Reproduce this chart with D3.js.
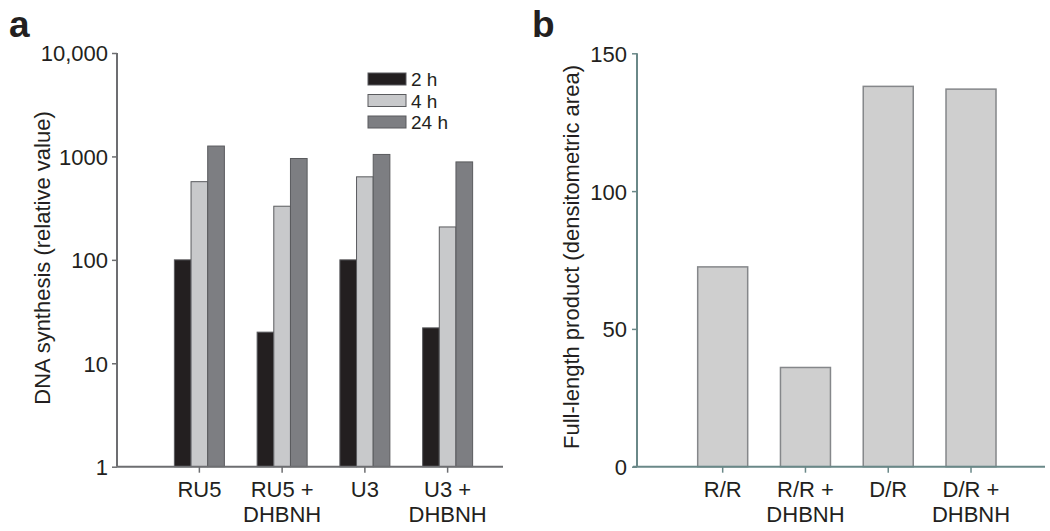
<!DOCTYPE html>
<html lang="en">
<head>
<meta charset="UTF-8">
<title>DNA synthesis</title>
<style>
    body { margin: 0; background: #fff; }
    svg text { font-family: "Liberation Sans", Arial, sans-serif; fill: #231f20; }
</style>
</head>
<body>
<svg id="SVG"></svg>
<script src="https://cdnjs.cloudflare.com/ajax/libs/d3/7.8.5/d3.min.js"></script>
<script>
    // panel a data
    var groupsA = [["RU5"], ["RU5 +", "DHBNH"], ["U3"], ["U3 +", "DHBNH"]];
    var seriesA = ["2 h", "4 h", "24 h"];
    var val2h = [100, 20, 100, 22];
    var val4h = [570, 330, 635, 208];
    var val24h = [1260, 955, 1045, 885];
    var ticksA = [1, 10, 100, 1000, 10000];

    // panel b data
    var groupsB = [["R/R"], ["R/R +", "DHBNH"], ["D/R"], ["D/R +", "DHBNH"]];
    var valB = [72.5, 36, 138, 137];
    var ticksB = [0, 50, 100, 150];

    var width = 1050, height = 531;
    var fs = "22px";
    var svg = d3.select("#SVG").attr("width", width).attr("height", height);

    var colorsA = ["#231f20", "#c8c9cb", "#7d7e82"];
    var axisCol = "#6d6e71";

    //********* panel a *********
    var gA = svg.append("g");
    var keysA = groupsA.map((d, i) => i);
    var xA = d3.scaleBand().domain(keysA).range([158, 489]);
    var yA = d3.scaleLog().domain([1, 10000]).range([466.7, 53]);
    var xSub = d3.scaleBand().domain(seriesA).range([0, 50]);
    var allA = [val2h, val4h, val24h];

    keysA.forEach(function (k) {
        gA.append("g").selectAll("rect")
            .data(seriesA)
            .enter().append("rect")
            .attr("x", s => xA(k) + xA.bandwidth() / 2 - 25 + xSub(s))
            .attr("width", xSub.bandwidth())
            .attr("y", (s, j) => yA(allA[j][k]))
            .attr("height", (s, j) => yA(1) - yA(allA[j][k]))
            .attr("fill", (s, j) => colorsA[j])
            .attr("stroke", "#5a5b5e")
            .attr("stroke-width", 1);
    });

    var axYA = gA.append("g").attr("transform", "translate(117,0)")
        .call(d3.axisLeft(yA).tickValues(ticksA).tickFormat(d3.format(",")).tickSize(5).tickPadding(4));
    axYA.select(".domain").remove();
    axYA.append("line").attr("x1", 0).attr("x2", 0).attr("y1", yA(10000)).attr("y2", yA(1))
        .attr("stroke", axisCol).attr("stroke-width", 2);
    axYA.selectAll(".tick line").attr("stroke", axisCol).attr("stroke-width", 1.5);
    axYA.selectAll(".tick text").style("font-size", fs).attr("fill", "#231f20").attr("dy", "0.36em");
    axYA.selectAll(".tick").filter(d => d === 1000).select("text").text("1000");

    var axXA = gA.append("g").attr("transform", "translate(0," + yA(1) + ")")
        .call(d3.axisBottom(xA).tickSize(6).tickFormat(""));
    axXA.select(".domain").remove();
    axXA.append("line").attr("x1", 117).attr("x2", 503).attr("stroke", axisCol).attr("stroke-width", 2);
    axXA.selectAll(".tick line").attr("stroke", axisCol).attr("stroke-width", 1.5);
    axXA.selectAll(".tick").each(function (d) {
        var t = d3.select(this).append("text").attr("text-anchor", "middle").style("font-size", fs);
        groupsA[d].forEach(function (ln, i) {
            t.append("tspan").attr("x", 0).attr("y", 30 + i * 25).text(ln);
        });
    });

    gA.append("text").attr("transform", "translate(50,258) rotate(-90)")
        .attr("text-anchor", "middle").style("font-size", fs)
        .text("DNA synthesis (relative value)");

    // legend
    var leg = gA.append("g").selectAll("g").data(seriesA).enter().append("g")
        .attr("transform", (d, i) => "translate(368," + (73 + i * 21.5) + ")");
    leg.append("rect").attr("width", 38).attr("height", 12)
        .attr("fill", (d, i) => colorsA[i]).attr("stroke", "#5a5b5e");
    leg.append("text").attr("x", 43).attr("y", 13).style("font-size", "19px").text(d => d);

    svg.append("text").attr("x", 9).attr("y", 37).style("font-size", "37px")
        .style("font-weight", "bold").text("a");

    //********* panel b *********
    var gB = svg.append("g");
    var axisColB = "#6a8888";
    var keysB = groupsB.map((d, i) => i);
    var xB = d3.scaleBand().domain(keysB).range([681.3, 1012.4]);
    var yB = d3.scaleLinear().domain([0, 150]).range([466.7, 53.3]);

    gB.append("g").selectAll("rect")
        .data(keysB)
        .enter().append("rect")
        .attr("x", k => xB(k) + xB.bandwidth() / 2 - 25)
        .attr("width", 50)
        .attr("y", k => yB(valB[k]))
        .attr("height", k => yB(0) - yB(valB[k]))
        .attr("fill", "#cfcfcf")
        .attr("stroke", "#85878a")
        .attr("stroke-width", 1.5);

    var axYB = gB.append("g").attr("transform", "translate(637,0)")
        .call(d3.axisLeft(yB).tickValues(ticksB).tickSize(5).tickPadding(5));
    axYB.select(".domain").remove();
    axYB.append("line").attr("x1", 0).attr("x2", 0).attr("y1", yB(150)).attr("y2", yB(0))
        .attr("stroke", axisColB).attr("stroke-width", 2);
    axYB.selectAll(".tick line").attr("stroke", axisColB).attr("stroke-width", 1.5);
    axYB.selectAll(".tick text").style("font-size", fs).attr("fill", "#231f20").attr("dy", "0.36em");

    var axXB = gB.append("g").attr("transform", "translate(0," + yB(0) + ")")
        .call(d3.axisBottom(xB).tickSize(6).tickFormat(""));
    axXB.select(".domain").remove();
    axXB.append("line").attr("x1", 633).attr("x2", 1045).attr("stroke", axisColB).attr("stroke-width", 2);
    axXB.selectAll(".tick line").attr("stroke", axisColB).attr("stroke-width", 1.5);
    axXB.selectAll(".tick").each(function (d) {
        var t = d3.select(this).append("text").attr("text-anchor", "middle").style("font-size", fs);
        groupsB[d].forEach(function (ln, i) {
            t.append("tspan").attr("x", 0).attr("y", 30 + i * 25).text(ln);
        });
    });

    gB.append("text").attr("transform", "translate(579,257) rotate(-90)")
        .attr("text-anchor", "middle").style("font-size", fs)
        .text("Full-length product (densitometric area)");

    svg.append("text").attr("x", 532).attr("y", 37).style("font-size", "37px")
        .style("font-weight", "bold").text("b");
</script>
</body>
</html>
